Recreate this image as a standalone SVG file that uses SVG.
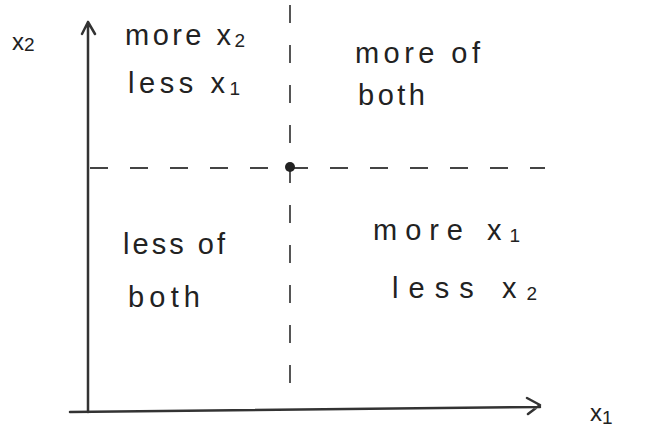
<svg xmlns="http://www.w3.org/2000/svg" width="661" height="431" viewBox="0 0 661 431">
<style>
.ax{stroke:#333;stroke-width:2.5;fill:none;stroke-linecap:round;stroke-linejoin:round}
.dash{stroke:#444;stroke-width:1.8;fill:none;stroke-dasharray:18 22}
.t{font-family:"Liberation Sans",Arial,sans-serif;font-size:29px;fill:#222}
.s{font-size:19px}
.l{font-size:24px}
</style>
<rect width="661" height="431" fill="#fff"/>
<g id="connectors">
<path class="dash" d="M290 5V395"/>
<path class="dash" d="M90 168H545" stroke-dasharray="22 18"/>
</g>
<g id="axis-x2">
<path class="ax" d="M88 412V22M82 34L88 22L95 34"/>
<text class="t l" x="12" y="50">x<tspan class="s" dy="1">2</tspan></text>
</g>
<g id="axis-x1">
<path class="ax" d="M70 412L540 407M527 398L540 405L528 414"/>
<text class="t l" x="590" y="421">x<tspan class="s" dy="3">1</tspan></text>
</g>
<g id="origin-point">
<circle cx="290" cy="167" r="5" fill="#222"/>
</g>
<g id="q-top-left">
<text class="t" x="125" y="45" textLength="120" lengthAdjust="spacing">more x<tspan class="s" dy="2">2</tspan></text>
<text class="t" x="128" y="93" textLength="112" lengthAdjust="spacing">less x<tspan class="s" dy="2">1</tspan></text>
</g>
<g id="q-top-right">
<text class="t" x="355" y="63" textLength="125" lengthAdjust="spacing">more of</text>
<text class="t" x="358" y="105" textLength="67" lengthAdjust="spacing">both</text>
</g>
<g id="q-bottom-left">
<text class="t" x="123" y="254" textLength="102" lengthAdjust="spacing">less of</text>
<text class="t" x="128" y="307" textLength="72" lengthAdjust="spacing">both</text>
</g>
<g id="q-bottom-right">
<text class="t" x="373" y="240" textLength="147" lengthAdjust="spacing">more x<tspan class="s" dy="2">1</tspan></text>
<text class="t" x="392" y="298" textLength="145" lengthAdjust="spacing">less x<tspan class="s" dy="2">2</tspan></text>
</g>
</svg>
